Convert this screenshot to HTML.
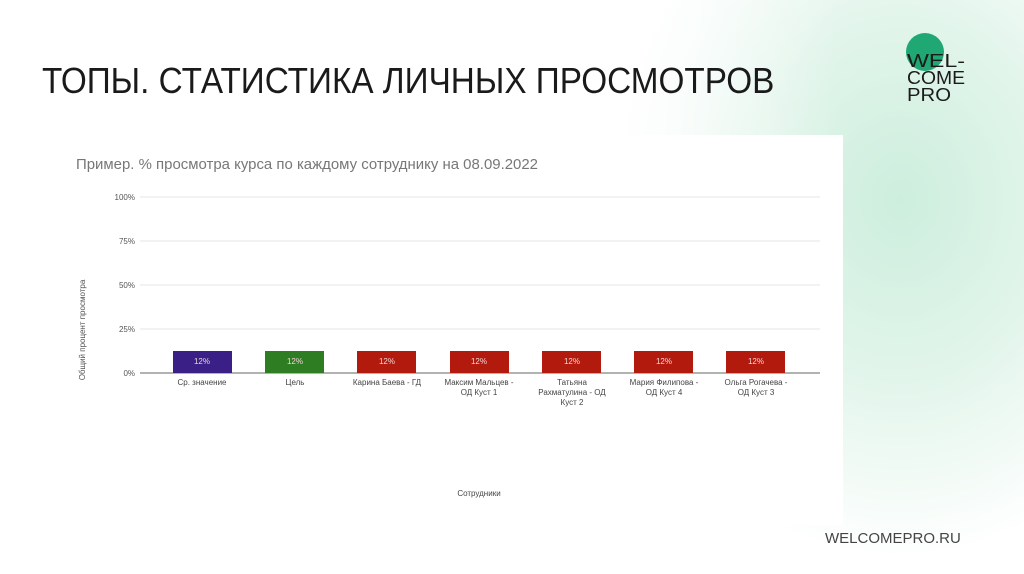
<!DOCTYPE html>
<html><head><meta charset="utf-8"><style>
body{margin:0;width:1024px;height:574px;overflow:hidden;font-family:"Liberation Sans",sans-serif;position:relative;
background:radial-gradient(ellipse 300px 360px at 900px 200px,#cdeedd 0%,#e2f5eb 50%,#fff 100%);}
.bg2{position:absolute;left:0;top:0;width:1024px;height:574px;background:linear-gradient(90deg,#fff 0%,#fff 55%,rgba(255,255,255,0) 82%);}
.t{position:absolute;font-size:36px;color:#1a1a1a;}
</style></head><body>
<div class="bg2"></div>
<div class="t" style="left:42px;top:60px;transform:scaleX(0.925);transform-origin:left">ТОПЫ. СТАТИСТИКА ЛИЧНЫХ ПРОСМОТРОВ</div>
<svg style="position:absolute;left:0;top:0" width="1024" height="574">
<circle cx="925" cy="52" r="19" fill="#1fa874"/>
<g font-family="Liberation Sans" font-size="18" fill="#1a1a1a">
<text x="907" y="67" textLength="58" lengthAdjust="spacingAndGlyphs">WEL-</text>
<text x="907" y="84" textLength="58" lengthAdjust="spacingAndGlyphs">COME</text>
<text x="907" y="101" textLength="44" lengthAdjust="spacingAndGlyphs">PRO</text>
</g>
<rect x="58" y="135" width="785" height="390" fill="#fff"/>
<text x="76" y="169" font-size="15" fill="#777" textLength="462" lengthAdjust="spacingAndGlyphs">Пример. % просмотра курса по каждому сотруднику на 08.09.2022</text>
<g stroke="#e4e4e4" stroke-width="1">
<line x1="140" y1="197" x2="820" y2="197"/><line x1="140" y1="241" x2="820" y2="241"/>
<line x1="140" y1="285" x2="820" y2="285"/><line x1="140" y1="329" x2="820" y2="329"/>
</g>
<line x1="140" y1="373" x2="820" y2="373" stroke="#999" stroke-width="1.5"/>
<g font-size="8" fill="#555" text-anchor="end">
<text x="135" y="200">100%</text><text x="135" y="244">75%</text><text x="135" y="288">50%</text><text x="135" y="332">25%</text><text x="135" y="376">0%</text>
</g>
<text transform="translate(85,330) rotate(-90)" font-size="8" fill="#555" text-anchor="middle">Общий процент просмотра</text>
<g>
<rect x="173" y="351" width="59" height="22" fill="#3a1f86"/>
<rect x="265" y="351" width="59" height="22" fill="#2f7d22"/>
<rect x="357" y="351" width="59" height="22" fill="#b21a0e"/>
<rect x="450" y="351" width="59" height="22" fill="#b21a0e"/>
<rect x="542" y="351" width="59" height="22" fill="#b21a0e"/>
<rect x="634" y="351" width="59" height="22" fill="#b21a0e"/>
<rect x="726" y="351" width="59" height="22" fill="#b21a0e"/>
</g>
<g font-size="8" fill="#f2d6d6" text-anchor="middle">
<text x="202" y="364">12%</text><text x="295" y="364">12%</text><text x="387" y="364">12%</text><text x="479" y="364">12%</text><text x="572" y="364">12%</text><text x="664" y="364">12%</text><text x="756" y="364">12%</text>
</g>
<g font-size="8" fill="#444" text-anchor="middle">
<text x="202" y="385">Ср. значение</text>
<text x="295" y="385">Цель</text>
<text x="387" y="385">Карина Баева - ГД</text>
<text x="479" y="385">Максим Мальцев -</text><text x="479" y="395">ОД Куст 1</text>
<text x="572" y="385">Татьяна</text><text x="572" y="395">Рахматулина - ОД</text><text x="572" y="405">Куст 2</text>
<text x="664" y="385">Мария Филипова -</text><text x="664" y="395">ОД Куст 4</text>
<text x="756" y="385">Ольга Рогачева -</text><text x="756" y="395">ОД Куст 3</text>
<text x="479" y="496">Сотрудники</text>
</g>
<text x="825" y="543" font-size="15" fill="#444">WELCOMEPRO.RU</text>
</svg>
</body></html>
